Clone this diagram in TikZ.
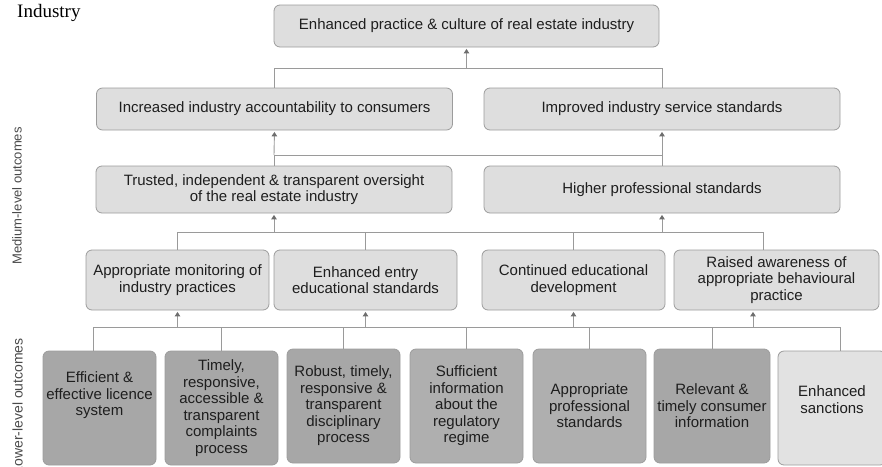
\documentclass[tikz,border=0pt]{standalone}
\usepackage{fontspec}
\setmainfont{Liberation Sans}
\newfontfamily\serifface{Liberation Serif}
\usetikzlibrary{arrows.meta}
\definecolor{boxline}{HTML}{9C9C9C}
\definecolor{upfill}{HTML}{DEDEDE}
\definecolor{darkfill}{HTML}{A7A7A7}
\definecolor{midfill}{HTML}{AFAFAF}
\definecolor{palefill}{HTML}{E2E2E2}
\definecolor{linkc}{HTML}{9A9A9A}
\definecolor{tipc}{HTML}{6E6E6E}
\definecolor{txt}{HTML}{1E1E1E}
\definecolor{sidec}{HTML}{4A4A4A}

\begin{document}
\begin{tikzpicture}[x=1pt,y=-1pt,
  box/.style={draw=boxline, rounded corners=6pt, line width=0.8pt, align=center,
    inner sep=0pt, text=txt, font=\fontsize{15}{16.5}\selectfont},
  upper/.style={box, fill=upfill, minimum width=356pt},
  lower/.style={box, minimum width=113pt, minimum height=114pt},
  link/.style={draw=linkc, line width=0.9pt},
  up/.style={link, -{Triangle[width=5.5pt,length=4.5pt,color=tipc]}, shorten >=1.5pt},
  sidelabel/.style={rotate=90, inner sep=0pt, text=sidec},
]
\useasboundingbox (0,0) rectangle (882,466);

% headings
\node[anchor=base west, inner sep=0pt, font=\serifface\fontsize{19}{19}\selectfont] (ind) at (17,17.5) {Industry};
\node[sidelabel, font=\fontsize{13}{13}\selectfont] (med) at (17,196) {Medium-level outcomes};
\node[sidelabel, font=\fontsize{14}{14}\selectfont, anchor=east] (low) at (17.5,338) {Lower-level outcomes};

% goal
\node[box, fill=upfill, minimum width=385pt, minimum height=42pt] (top) at (466.5,26)
  {Enhanced practice \& culture of real estate industry};

% second tier
\node[upper, minimum height=42pt] (l2a) at (274.5,109) {Increased industry accountability to consumers};
\node[upper, minimum height=42pt] (l2b) at (662,109) {Improved industry service standards};

% third tier
\node[upper, minimum height=47pt] (l3a) at (274,189.5) {Trusted, independent \& transparent oversight\\of the real estate industry};
\node[upper, minimum height=47pt] (l3b) at (662,189.5) {Higher professional standards};

% fourth tier
\node[box, fill=upfill, minimum width=183pt, minimum height=60pt] (l4a) at (177.5,280) {Appropriate monitoring of\\industry practices};
\node[box, fill=upfill, minimum width=183pt, minimum height=60pt] (l4b) at (365.5,280) {Enhanced entry\\educational standards};
\node[box, fill=upfill, minimum width=183pt, minimum height=60pt] (l4c) at (573.5,280) {Continued educational\\development};
\node[box, fill=upfill, minimum width=205pt, minimum height=60pt] (l4d) at (776.5,280) {Raised awareness of\\appropriate behavioural\\practice};

% lower-level outcomes
\node[lower, fill=darkfill] (p1) at (99.5,408) {Efficient \&\\effective licence\\system\\[11.5pt]};
\node[lower, fill=darkfill] (p2) at (221.5,408) {Timely,\\responsive,\\accessible \&\\transparent\\complaints\\process};
\node[lower, fill=darkfill] (p3) at (343.5,406) {Robust, timely,\\responsive \&\\transparent\\disciplinary\\process};
\node[lower, fill=midfill] (p4) at (466.5,406) {Sufficient\\information\\about the\\regulatory\\regime};
\node[lower, fill=midfill] (p5) at (589.5,406) {Appropriate\\professional\\standards};
\node[lower, fill=darkfill, minimum width=116pt] (p6) at (712,406) {Relevant \&\\timely consumer\\information};
\node[lower, fill=palefill, minimum width=108pt] (p7) at (832,408) {Enhanced\\sanctions\\[0pt]};

% bus between goal and second tier
\coordinate (b1) at (0,68);
\draw[link] (l2a.north) -- (l2a.north |- b1) -- (l2b.north |- b1) -- (l2b.north);
\draw[up] (top.south |- b1) -- (top.south);

% bus between second and third tier
\coordinate (b2) at (0,155);
\draw[link] (l3a.north) -- (l3a.north |- b2) -- (l3b.north |- b2) -- (l3b.north);
\draw[up] (l3a.north |- b2) -- (l2a.south);
\draw[up] (l3b.north |- b2) -- (l2b.south);

% bus between third and fourth tier
\coordinate (b3) at (0,232);
\coordinate (d4in) at ([xshift=-13.5pt]l4d.north);
\draw[link] (l4a.north |- b3) -- (d4in |- b3);
\foreach \n in {l4a,l4b,l4c} \draw[link] (\n.north) -- (\n.north |- b3);
\draw[link] (d4in) -- (d4in |- b3);
\draw[up] (l3a.south |- b3) -- (l3a.south);
\draw[up] (l3b.south |- b3) -- (l3b.south);

% bus between fourth tier and lower-level outcomes
\coordinate (b4) at (0,327);
\coordinate (p1in) at ([xshift=-6.5pt]p1.north);
\coordinate (p7in) at ([xshift=8pt]p7.north);
\coordinate (d4out) at ([xshift=-23.5pt]l4d.south);
\draw[link] (p1in |- b4) -- (p7in |- b4);
\draw[link] (p1in) -- (p1in |- b4);
\draw[link] (p7in) -- (p7in |- b4);
\foreach \n in {p2,p3,p4,p5,p6} \draw[link] (\n.north) -- (\n.north |- b4);
\foreach \n in {l4a,l4b,l4c} \draw[up] (\n.south |- b4) -- (\n.south);
\draw[up] (d4out |- b4) -- (d4out);
\end{tikzpicture}
\end{document}
